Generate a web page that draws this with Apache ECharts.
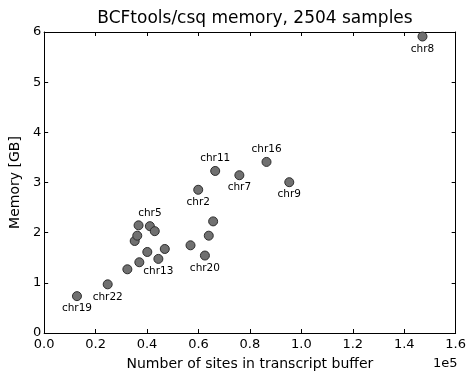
<!DOCTYPE html>
<html>
<head>
<meta charset="utf-8">
<script src="https://cdn.jsdelivr.net/npm/echarts@6/dist/echarts.min.js"></script>
<style>html,body{margin:0;padding:0;background:#fff}#c{width:469px;height:376px}</style>
</head>
<body>
<div id="c"></div>
<script>
const sites = [12750, 24700, 32350, 37000, 40100, 44400, 46900, 35200, 36200, 36700, 41100, 43000, 56900, 62500, 64000, 65700, 59900, 66500, 75900, 86450, 95300, 147100];
const memory = [0.735, 0.97, 1.27, 1.41, 1.615, 1.477, 1.675, 1.834, 1.94, 2.146, 2.13, 2.03, 1.748, 1.544, 1.94, 2.225, 2.855, 3.23, 3.145, 3.41, 3.006, 5.91];
const names = ['chr19', 'chr22', '', '', '', 'chr13', '', '', '', '', 'chr5', '', '', 'chr20', '', '', 'chr2', 'chr11', 'chr7', 'chr16', 'chr9', 'chr8'];
const labelAbove = ['chr5', 'chr11', 'chr16'];
const xTicks = ['0.0', '0.2', '0.4', '0.6', '0.8', '1.0', '1.2', '1.4', '1.6'];
const yTicks = ['0', '1', '2', '3', '4', '5', '6'];

const font = 'DejaVu Sans';
const data = sites.map((x, i) => ({
  value: [x, memory[i]],
  name: names[i],
  label: {
    show: names[i] !== '',
    position: labelAbove.includes(names[i]) ? 'top' : 'bottom',
    distance: 2
  }
}));

const chart = echarts.init(document.getElementById('c'), null, {renderer: 'canvas'});
const axisCommon = {
  axisLine: {show: true, onZero: false, lineStyle: {color: '#000', width: 1}},
  axisTick: {show: true, inside: true, length: 4, lineStyle: {color: '#000'}},
  splitLine: {show: false}
};
chart.setOption({
  animation: false,
  backgroundColor: '#fff',
  title: {
    text: 'BCFtools/csq memory, 2504 samples',
    left: 250, top: 5, textAlign: 'center',
    textStyle: {fontFamily: font, fontSize: 17, fontWeight: 'normal', color: '#000'}
  },
  grid: {left: 43, right: 12, top: 32, bottom: 42, containLabel: false},
  xAxis: [
    Object.assign({
      type: 'value', min: 0, max: 160000, interval: 20000, position: 'bottom',
      name: 'Number of sites in transcript buffer', nameLocation: 'middle', nameGap: 24,
      nameTextStyle: {fontFamily: font, fontSize: 14, color: '#000'},
      axisLabel: {fontFamily: font, fontSize: 13, color: '#000', margin: 5,
        formatter: v => xTicks[Math.round(v / 20000)]}
    }, axisCommon),
    Object.assign({
      type: 'value', min: 0, max: 160000, interval: 20000, position: 'top',
      axisLabel: {show: false}
    }, axisCommon)
  ],
  yAxis: [
    Object.assign({
      type: 'value', min: 0, max: 6, interval: 1, position: 'left',
      name: 'Memory [GB]', nameLocation: 'middle', nameGap: 19,
      nameTextStyle: {fontFamily: font, fontSize: 14, color: '#000'},
      axisLabel: {fontFamily: font, fontSize: 13, color: '#000', margin: 3,
        formatter: v => yTicks[Math.round(v)]}
    }, axisCommon),
    Object.assign({
      type: 'value', min: 0, max: 6, interval: 1, position: 'right',
      axisLabel: {show: false}
    }, axisCommon)
  ],
  graphic: [{
    type: 'text', left: 433, top: 357,
    style: {text: '1e5', font: '13px "DejaVu Sans"', fill: '#000'}
  }],
  series: [{
    type: 'scatter',
    xAxisIndex: 0, yAxisIndex: 0,
    symbolSize: 9,
    itemStyle: {color: '#707070', borderColor: '#2e2e2e', borderWidth: 1, opacity: 1},
    label: {
      fontFamily: font, fontSize: 10.5, color: '#000',
      formatter: p => p.data.name
    },
    data: data
  }]
});
</script>
</body>
</html>
